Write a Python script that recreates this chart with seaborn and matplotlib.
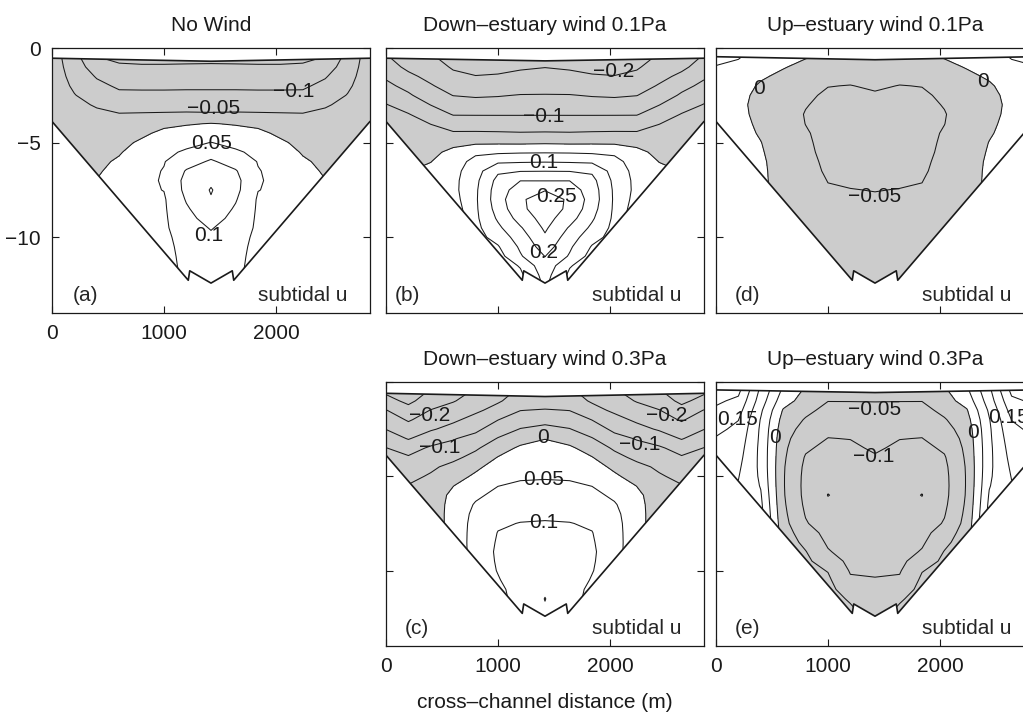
import numpy as np
import matplotlib
matplotlib.use("Agg")
import matplotlib.pyplot as plt
import seaborn as sns
from matplotlib.patches import Polygon

sns.set_theme(style="ticks")
plt.rcParams['font.family'] = ['Liberation Sans', 'DejaVu Sans']
plt.rcParams['axes.unicode_minus'] = True
plt.rcParams['contour.negative_linestyle'] = 'solid'

# ---------------- grid of the cross-section (m) ----------------
x_nodes = [0, 200, 400, 600, 800, 1000, 1200, 1420, 1640, 1840, 2040, 2240, 2440, 2640, 2840]
z_nodes = [-0.4, -1.0, -1.5, -2.0, -2.5, -3.0, -3.5, -4.0, -4.5, -5.0, -5.5, -6.0, -6.5,
           -7.0, -7.5, -8.0, -8.5, -9.0, -9.5, -10.0, -10.5, -11.0, -11.5, -12.0, -12.5]

# channel bed (m)
bed_x = [0, 1217, 1230, 1420, 1610, 1623, 2840]
bed_z = [-3.88, -12.27, -11.77, -12.42, -11.77, -12.27, -3.88]

# contour levels drawn as lines
line_levels = [-0.3, -0.25, -0.2, -0.15, -0.1, -0.05, 0.0, 0.05, 0.1, 0.15, 0.2, 0.25, 0.3]

# ---------------- subtidal u fields (m/s), rows = z_nodes, cols = x_nodes ----------------
u_no_wind = [
    [-0.025, -0.085, -0.152, -0.158, -0.160, -0.160, -0.161, -0.162, -0.161, -0.160, -0.160, -0.158, -0.152, -0.085, -0.025],
    [-0.024, -0.075, -0.125, -0.146, -0.147, -0.147, -0.146, -0.145, -0.146, -0.147, -0.147, -0.146, -0.125, -0.075, -0.024],
    [-0.022, -0.067, -0.104, -0.125, -0.127, -0.127, -0.126, -0.125, -0.126, -0.127, -0.127, -0.125, -0.104, -0.067, -0.022],
    [-0.020, -0.058, -0.088, -0.107, -0.108, -0.108, -0.107, -0.107, -0.107, -0.108, -0.108, -0.107, -0.088, -0.058, -0.020],
    [-0.018, -0.048, -0.073, -0.090, -0.090, -0.090, -0.090, -0.090, -0.090, -0.090, -0.090, -0.090, -0.073, -0.048, -0.018],
    [-0.016, -0.040, -0.054, -0.066, -0.066, -0.066, -0.066, -0.066, -0.066, -0.066, -0.066, -0.066, -0.054, -0.040, -0.016],
    [-0.014, -0.033, -0.042, -0.048, -0.047, -0.046, -0.045, -0.046, -0.045, -0.046, -0.047, -0.048, -0.042, -0.033, -0.014],
    [-0.012, -0.028, -0.033, -0.035, -0.030, -0.012, -0.004, 0.002, -0.004, -0.012, -0.030, -0.035, -0.033, -0.028, -0.012],
    [-0.010, -0.024, -0.026, -0.024, -0.010, 0.012, 0.020, 0.026, 0.020, 0.012, -0.010, -0.024, -0.026, -0.024, -0.010],
    [-0.008, -0.020, -0.020, -0.014, 0.008, 0.028, 0.038, 0.051, 0.038, 0.028, 0.008, -0.014, -0.020, -0.020, -0.008],
    [-0.007, -0.017, -0.015, -0.004, 0.022, 0.040, 0.056, 0.080, 0.056, 0.040, 0.022, -0.004, -0.015, -0.017, -0.007],
    [-0.006, -0.014, -0.010, 0.006, 0.032, 0.048, 0.080, 0.106, 0.080, 0.048, 0.032, 0.006, -0.010, -0.014, -0.006],
    [-0.005, -0.011, -0.005, 0.014, 0.038, 0.052, 0.104, 0.128, 0.104, 0.052, 0.038, 0.014, -0.005, -0.011, -0.005],
    [-0.004, -0.008, 0.001, 0.020, 0.041, 0.053, 0.115, 0.142, 0.115, 0.053, 0.041, 0.020, 0.001, -0.008, -0.004],
    [-0.003, -0.005, 0.005, 0.025, 0.042, 0.051, 0.113, 0.153, 0.113, 0.051, 0.042, 0.025, 0.005, -0.005, -0.003],
    [-0.002, -0.002, 0.010, 0.028, 0.042, 0.045, 0.104, 0.147, 0.104, 0.045, 0.042, 0.028, 0.010, -0.002, -0.002],
    [-0.001, 0.001, 0.012, 0.030, 0.041, 0.044, 0.094, 0.135, 0.094, 0.044, 0.041, 0.030, 0.012, 0.001, -0.001],
    [0.000, 0.002, 0.014, 0.030, 0.040, 0.043, 0.085, 0.120, 0.085, 0.043, 0.040, 0.030, 0.014, 0.002, 0.000],
    [0.000, 0.004, 0.016, 0.030, 0.038, 0.042, 0.078, 0.103, 0.078, 0.042, 0.038, 0.030, 0.016, 0.004, 0.000],
    [0.000, 0.005, 0.017, 0.030, 0.036, 0.040, 0.068, 0.092, 0.068, 0.040, 0.036, 0.030, 0.017, 0.005, 0.000],
    [0.000, 0.006, 0.018, 0.030, 0.034, 0.038, 0.064, 0.084, 0.064, 0.038, 0.034, 0.030, 0.018, 0.006, 0.000],
    [0.000, 0.007, 0.019, 0.030, 0.033, 0.036, 0.062, 0.078, 0.062, 0.036, 0.033, 0.030, 0.019, 0.007, 0.000],
    [0.000, 0.008, 0.020, 0.030, 0.032, 0.035, 0.060, 0.074, 0.060, 0.035, 0.032, 0.030, 0.020, 0.008, 0.000],
    [0.000, 0.008, 0.020, 0.030, 0.031, 0.034, 0.058, 0.070, 0.058, 0.034, 0.031, 0.030, 0.020, 0.008, 0.000],
    [0.000, 0.008, 0.020, 0.030, 0.030, 0.033, 0.056, 0.068, 0.056, 0.033, 0.030, 0.030, 0.020, 0.008, 0.000],
]

u_down_01 = [
    [-0.147, -0.182, -0.197, -0.216, -0.219, -0.221, -0.223, -0.216, -0.223, -0.221, -0.219, -0.216, -0.197, -0.182, -0.147],
    [-0.130, -0.160, -0.180, -0.205, -0.210, -0.212, -0.205, -0.201, -0.205, -0.212, -0.210, -0.205, -0.180, -0.160, -0.130],
    [-0.107, -0.140, -0.163, -0.190, -0.199, -0.196, -0.190, -0.187, -0.190, -0.196, -0.199, -0.190, -0.163, -0.140, -0.107],
    [-0.088, -0.115, -0.146, -0.170, -0.178, -0.175, -0.172, -0.166, -0.172, -0.175, -0.178, -0.170, -0.146, -0.115, -0.088],
    [-0.066, -0.093, -0.128, -0.151, -0.156, -0.153, -0.148, -0.148, -0.148, -0.153, -0.156, -0.151, -0.128, -0.093, -0.066],
    [-0.048, -0.070, -0.101, -0.127, -0.130, -0.130, -0.128, -0.125, -0.128, -0.130, -0.130, -0.127, -0.101, -0.070, -0.048],
    [-0.035, -0.048, -0.075, -0.103, -0.103, -0.103, -0.103, -0.103, -0.103, -0.103, -0.103, -0.103, -0.075, -0.048, -0.035],
    [-0.025, -0.033, -0.051, -0.073, -0.076, -0.077, -0.077, -0.076, -0.077, -0.077, -0.076, -0.073, -0.051, -0.033, -0.025],
    [-0.018, -0.022, -0.035, -0.045, -0.044, -0.045, -0.047, -0.046, -0.047, -0.045, -0.044, -0.045, -0.035, -0.022, -0.018],
    [-0.012, -0.014, -0.022, -0.013, -0.008, -0.007, -0.008, -0.006, -0.008, -0.007, -0.008, -0.013, -0.022, -0.014, -0.012],
    [-0.008, -0.008, -0.012, 0.012, 0.040, 0.042, 0.045, 0.046, 0.045, 0.042, 0.040, 0.012, -0.012, -0.008, -0.008],
    [-0.005, -0.003, -0.001, 0.026, 0.066, 0.092, 0.095, 0.097, 0.095, 0.092, 0.066, 0.026, -0.001, -0.003, -0.005],
    [-0.003, -0.001, 0.010, 0.033, 0.080, 0.142, 0.148, 0.149, 0.148, 0.142, 0.080, 0.033, 0.010, -0.001, -0.003],
    [-0.001, 0.002, 0.018, 0.036, 0.088, 0.165, 0.199, 0.198, 0.199, 0.165, 0.088, 0.036, 0.018, 0.002, -0.001],
    [0.001, 0.005, 0.022, 0.036, 0.092, 0.175, 0.225, 0.248, 0.225, 0.175, 0.092, 0.036, 0.022, 0.005, 0.001],
    [0.002, 0.008, 0.024, 0.030, 0.093, 0.178, 0.244, 0.270, 0.244, 0.178, 0.093, 0.030, 0.024, 0.008, 0.002],
    [0.003, 0.010, 0.024, 0.020, 0.092, 0.170, 0.240, 0.276, 0.240, 0.170, 0.092, 0.020, 0.024, 0.010, 0.003],
    [0.003, 0.012, 0.024, 0.010, 0.090, 0.157, 0.220, 0.270, 0.220, 0.157, 0.090, 0.010, 0.024, 0.012, 0.003],
    [0.003, 0.012, 0.024, 0.005, 0.086, 0.140, 0.195, 0.258, 0.195, 0.140, 0.086, 0.005, 0.024, 0.012, 0.003],
    [0.003, 0.012, 0.024, 0.002, 0.082, 0.118, 0.175, 0.243, 0.175, 0.118, 0.082, 0.002, 0.024, 0.012, 0.003],
    [0.003, 0.012, 0.024, 0.001, 0.078, 0.096, 0.158, 0.225, 0.158, 0.096, 0.078, 0.001, 0.024, 0.012, 0.003],
    [0.003, 0.012, 0.024, 0.001, 0.074, 0.080, 0.145, 0.201, 0.145, 0.080, 0.074, 0.001, 0.024, 0.012, 0.003],
    [0.003, 0.012, 0.024, 0.001, 0.070, 0.072, 0.104, 0.185, 0.104, 0.072, 0.070, 0.001, 0.024, 0.012, 0.003],
    [0.003, 0.012, 0.024, 0.001, 0.066, 0.066, 0.090, 0.170, 0.090, 0.066, 0.066, 0.001, 0.024, 0.012, 0.003],
    [0.003, 0.012, 0.024, 0.001, 0.062, 0.062, 0.080, 0.160, 0.080, 0.062, 0.062, 0.001, 0.024, 0.012, 0.003],
]

u_up_01 = [
    [0.064, 0.055, 0.032, 0.020, 0.005, -0.008, -0.010, -0.012, -0.010, -0.008, 0.005, 0.020, 0.032, 0.055, 0.064],
    [0.048, 0.040, 0.018, 0.003, -0.012, -0.022, -0.025, -0.024, -0.025, -0.022, -0.012, 0.003, 0.018, 0.040, 0.048],
    [0.042, 0.030, 0.006, -0.010, -0.025, -0.035, -0.040, -0.035, -0.040, -0.035, -0.025, -0.010, 0.006, 0.030, 0.042],
    [0.037, 0.020, -0.006, -0.020, -0.035, -0.049, -0.051, -0.045, -0.051, -0.049, -0.035, -0.020, -0.006, 0.020, 0.037],
    [0.033, 0.013, -0.012, -0.027, -0.043, -0.056, -0.058, -0.054, -0.058, -0.056, -0.043, -0.027, -0.012, 0.013, 0.033],
    [0.030, 0.010, -0.014, -0.030, -0.048, -0.060, -0.063, -0.060, -0.063, -0.060, -0.048, -0.030, -0.014, 0.010, 0.030],
    [0.027, 0.011, -0.012, -0.031, -0.052, -0.062, -0.066, -0.064, -0.066, -0.062, -0.052, -0.031, -0.012, 0.011, 0.027],
    [0.025, 0.013, -0.008, -0.030, -0.0505, -0.062, -0.067, -0.066, -0.067, -0.062, -0.0505, -0.030, -0.008, 0.013, 0.025],
    [0.023, 0.015, -0.004, -0.028, -0.047, -0.061, -0.067, -0.067, -0.067, -0.061, -0.047, -0.028, -0.004, 0.015, 0.023],
    [0.021, 0.016, 0.001, -0.025, -0.045, -0.060, -0.066, -0.066, -0.066, -0.060, -0.045, -0.025, 0.001, 0.016, 0.021],
    [0.019, 0.016, 0.004, -0.022, -0.043, -0.059, -0.064, -0.065, -0.064, -0.059, -0.043, -0.022, 0.004, 0.016, 0.019],
    [0.017, 0.015, 0.007, -0.020, -0.040, -0.057, -0.062, -0.063, -0.062, -0.057, -0.040, -0.020, 0.007, 0.015, 0.017],
    [0.015, 0.014, 0.008, -0.018, -0.037, -0.055, -0.059, -0.060, -0.059, -0.055, -0.037, -0.018, 0.008, 0.014, 0.015],
    [0.013, 0.013, 0.008, -0.016, -0.033, -0.051, -0.055, -0.056, -0.055, -0.051, -0.033, -0.016, 0.008, 0.013, 0.013],
    [0.012, 0.012, 0.008, -0.013, -0.030, -0.047, -0.049, -0.051, -0.049, -0.047, -0.030, -0.013, 0.008, 0.012, 0.012],
    [0.011, 0.012, 0.008, -0.010, -0.027, -0.043, -0.045, -0.046, -0.045, -0.043, -0.027, -0.010, 0.008, 0.012, 0.011],
    [0.010, 0.012, 0.008, -0.008, -0.024, -0.040, -0.041, -0.042, -0.041, -0.040, -0.024, -0.008, 0.008, 0.012, 0.010],
    [0.010, 0.012, 0.008, -0.006, -0.020, -0.036, -0.037, -0.038, -0.037, -0.036, -0.020, -0.006, 0.008, 0.012, 0.010],
    [0.010, 0.012, 0.008, -0.005, -0.018, -0.033, -0.034, -0.035, -0.034, -0.033, -0.018, -0.005, 0.008, 0.012, 0.010],
    [0.010, 0.012, 0.008, -0.005, -0.015, -0.030, -0.031, -0.032, -0.031, -0.030, -0.015, -0.005, 0.008, 0.012, 0.010],
    [0.010, 0.012, 0.008, -0.005, -0.013, -0.027, -0.028, -0.029, -0.028, -0.027, -0.013, -0.005, 0.008, 0.012, 0.010],
    [0.010, 0.012, 0.008, -0.005, -0.012, -0.025, -0.026, -0.027, -0.026, -0.025, -0.012, -0.005, 0.008, 0.012, 0.010],
    [0.010, 0.012, 0.008, -0.005, -0.012, -0.023, -0.024, -0.025, -0.024, -0.023, -0.012, -0.005, 0.008, 0.012, 0.010],
    [0.010, 0.012, 0.008, -0.005, -0.012, -0.021, -0.022, -0.023, -0.022, -0.021, -0.012, -0.005, 0.008, 0.012, 0.010],
    [0.010, 0.012, 0.008, -0.005, -0.012, -0.020, -0.020, -0.021, -0.020, -0.020, -0.012, -0.005, 0.008, 0.012, 0.010],
]

u_down_03 = [
    [-0.262, -0.292, -0.248, -0.215, -0.198, -0.170, -0.145, -0.140, -0.145, -0.170, -0.198, -0.215, -0.248, -0.292, -0.262],
    [-0.235, -0.260, -0.228, -0.203, -0.180, -0.155, -0.130, -0.128, -0.130, -0.155, -0.180, -0.203, -0.228, -0.260, -0.235],
    [-0.198, -0.235, -0.198, -0.182, -0.158, -0.135, -0.101, -0.096, -0.101, -0.135, -0.158, -0.182, -0.198, -0.235, -0.198],
    [-0.174, -0.205, -0.178, -0.158, -0.135, -0.101, -0.075, -0.066, -0.075, -0.101, -0.135, -0.158, -0.178, -0.205, -0.174],
    [-0.151, -0.180, -0.155, -0.135, -0.110, -0.076, -0.048, -0.036, -0.048, -0.076, -0.110, -0.135, -0.155, -0.180, -0.151],
    [-0.124, -0.153, -0.125, -0.103, -0.085, -0.047, -0.020, -0.001, -0.020, -0.047, -0.085, -0.103, -0.125, -0.153, -0.124],
    [-0.099, -0.120, -0.093, -0.085, -0.057, -0.022, 0.008, 0.012, 0.008, -0.022, -0.057, -0.085, -0.093, -0.120, -0.099],
    [-0.080, -0.095, -0.075, -0.061, -0.035, 0.002, 0.020, 0.022, 0.020, 0.002, -0.035, -0.061, -0.075, -0.095, -0.080],
    [-0.065, -0.078, -0.058, -0.037, -0.010, 0.020, 0.032, 0.034, 0.032, 0.020, -0.010, -0.037, -0.058, -0.078, -0.065],
    [-0.052, -0.062, -0.045, -0.020, 0.008, 0.035, 0.043, 0.046, 0.043, 0.035, 0.008, -0.020, -0.045, -0.062, -0.052],
    [-0.045, -0.048, -0.034, -0.001, 0.023, 0.049, 0.058, 0.058, 0.058, 0.049, 0.023, -0.001, -0.034, -0.048, -0.045],
    [-0.040, -0.040, -0.024, 0.010, 0.040, 0.064, 0.070, 0.070, 0.070, 0.064, 0.040, 0.010, -0.024, -0.040, -0.040],
    [-0.036, -0.035, -0.020, 0.012, 0.055, 0.078, 0.082, 0.082, 0.082, 0.078, 0.055, 0.012, -0.020, -0.035, -0.036],
    [-0.032, -0.030, -0.018, 0.012, 0.065, 0.089, 0.093, 0.093, 0.093, 0.089, 0.065, 0.012, -0.018, -0.030, -0.032],
    [-0.028, -0.026, -0.015, 0.010, 0.072, 0.096, 0.101, 0.103, 0.101, 0.096, 0.072, 0.010, -0.015, -0.026, -0.028],
    [-0.025, -0.022, -0.012, 0.006, 0.077, 0.101, 0.108, 0.110, 0.108, 0.101, 0.077, 0.006, -0.012, -0.022, -0.025],
    [-0.022, -0.020, -0.010, 0.003, 0.080, 0.103, 0.113, 0.117, 0.113, 0.103, 0.080, 0.003, -0.010, -0.020, -0.022],
    [-0.022, -0.020, -0.008, 0.001, 0.080, 0.105, 0.117, 0.123, 0.117, 0.105, 0.080, 0.001, -0.008, -0.020, -0.022],
    [-0.022, -0.020, -0.008, 0.001, 0.078, 0.104, 0.120, 0.128, 0.120, 0.104, 0.078, 0.001, -0.008, -0.020, -0.022],
    [-0.022, -0.020, -0.008, 0.001, 0.075, 0.102, 0.122, 0.134, 0.122, 0.102, 0.075, 0.001, -0.008, -0.020, -0.022],
    [-0.022, -0.020, -0.008, 0.001, 0.072, 0.097, 0.123, 0.139, 0.123, 0.097, 0.072, 0.001, -0.008, -0.020, -0.022],
    [-0.022, -0.020, -0.008, 0.001, 0.070, 0.088, 0.122, 0.145, 0.122, 0.088, 0.070, 0.001, -0.008, -0.020, -0.022],
    [-0.022, -0.020, -0.008, 0.001, 0.068, 0.084, 0.120, 0.151, 0.120, 0.084, 0.068, 0.001, -0.008, -0.020, -0.022],
    [-0.022, -0.020, -0.008, 0.001, 0.068, 0.082, 0.115, 0.147, 0.115, 0.082, 0.068, 0.001, -0.008, -0.020, -0.022],
    [-0.022, -0.020, -0.008, 0.001, 0.068, 0.080, 0.110, 0.140, 0.110, 0.080, 0.068, 0.001, -0.008, -0.020, -0.022],
]

u_up_03 = [
    [0.278, 0.264, 0.140, 0.042, -0.006, -0.030, -0.030, -0.030, -0.030, -0.030, -0.006, 0.042, 0.140, 0.264, 0.278],
    [0.258, 0.240, 0.125, 0.020, -0.020, -0.049, -0.049, -0.049, -0.049, -0.049, -0.020, 0.020, 0.125, 0.240, 0.258],
    [0.242, 0.220, 0.108, -0.004, -0.038, -0.064, -0.062, -0.058, -0.062, -0.064, -0.038, -0.004, 0.108, 0.220, 0.242],
    [0.225, 0.201, 0.097, -0.018, -0.054, -0.078, -0.075, -0.068, -0.075, -0.078, -0.054, -0.018, 0.097, 0.201, 0.225],
    [0.210, 0.190, 0.092, -0.028, -0.067, -0.090, -0.088, -0.077, -0.088, -0.090, -0.067, -0.028, 0.092, 0.190, 0.210],
    [0.197, 0.180, 0.090, -0.035, -0.080, -0.101, -0.099, -0.085, -0.099, -0.101, -0.080, -0.035, 0.090, 0.180, 0.197],
    [0.186, 0.172, 0.088, -0.039, -0.093, -0.112, -0.108, -0.094, -0.108, -0.112, -0.093, -0.039, 0.088, 0.172, 0.186],
    [0.176, 0.165, 0.088, -0.042, -0.104, -0.122, -0.116, -0.104, -0.116, -0.122, -0.104, -0.042, 0.088, 0.165, 0.176],
    [0.167, 0.158, 0.089, -0.045, -0.110, -0.130, -0.123, -0.112, -0.123, -0.130, -0.110, -0.045, 0.089, 0.158, 0.167],
    [0.160, 0.152, 0.092, -0.046, -0.113, -0.138, -0.128, -0.118, -0.128, -0.138, -0.113, -0.046, 0.092, 0.152, 0.160],
    [0.152, 0.147, 0.097, -0.046, -0.114, -0.144, -0.133, -0.123, -0.133, -0.144, -0.114, -0.046, 0.097, 0.147, 0.152],
    [0.146, 0.142, 0.104, -0.045, -0.113, -0.151, -0.137, -0.127, -0.137, -0.151, -0.113, -0.045, 0.104, 0.142, 0.146],
    [0.141, 0.138, 0.110, -0.042, -0.109, -0.143, -0.138, -0.130, -0.138, -0.143, -0.109, -0.042, 0.110, 0.138, 0.141],
    [0.137, 0.135, 0.115, -0.038, -0.103, -0.135, -0.137, -0.131, -0.137, -0.135, -0.103, -0.038, 0.115, 0.135, 0.137],
    [0.134, 0.133, 0.120, -0.033, -0.096, -0.126, -0.135, -0.131, -0.135, -0.126, -0.096, -0.033, 0.120, 0.133, 0.134],
    [0.132, 0.133, 0.125, -0.028, -0.075, -0.117, -0.131, -0.130, -0.131, -0.117, -0.075, -0.028, 0.125, 0.133, 0.132],
    [0.132, 0.133, 0.125, -0.022, -0.062, -0.107, -0.126, -0.127, -0.126, -0.107, -0.062, -0.022, 0.125, 0.133, 0.132],
    [0.132, 0.133, 0.125, -0.016, -0.048, -0.096, -0.120, -0.122, -0.120, -0.096, -0.048, -0.016, 0.125, 0.133, 0.132],
    [0.132, 0.133, 0.125, -0.012, -0.040, -0.075, -0.112, -0.115, -0.112, -0.075, -0.040, -0.012, 0.125, 0.133, 0.132],
    [0.132, 0.133, 0.125, -0.010, -0.035, -0.052, -0.104, -0.107, -0.104, -0.052, -0.035, -0.010, 0.125, 0.133, 0.132],
    [0.132, 0.133, 0.125, -0.010, -0.030, -0.042, -0.094, -0.097, -0.094, -0.042, -0.030, -0.010, 0.125, 0.133, 0.132],
    [0.132, 0.133, 0.125, -0.010, -0.028, -0.036, -0.075, -0.088, -0.075, -0.036, -0.028, -0.010, 0.125, 0.133, 0.132],
    [0.132, 0.133, 0.125, -0.010, -0.028, -0.033, -0.055, -0.080, -0.055, -0.033, -0.028, -0.010, 0.125, 0.133, 0.132],
    [0.132, 0.133, 0.125, -0.010, -0.028, -0.033, -0.045, -0.074, -0.045, -0.033, -0.028, -0.010, 0.125, 0.133, 0.132],
    [0.132, 0.133, 0.125, -0.010, -0.028, -0.033, -0.040, -0.070, -0.040, -0.033, -0.028, -0.010, 0.125, 0.133, 0.132],
]

# water surface elevation (edge, channel centre) per panel (m)
surface_a = [-0.54, -0.70]
surface_b = [-0.54, -0.68]
surface_d = [-0.46, -0.62]
surface_c = [-0.60, -0.77]
surface_e = [-0.42, -0.56]

# contour labels: x (m), z (m), text
labels_a_x = [2155, 1440, 1426, 1396]
labels_a_z = [-2.3, -3.18, -5.02, -9.93]
labels_a_t = ['\u22120.1', '\u22120.05', '0.05', '0.1']
labels_b_x = [2030, 1405, 1405, 1524, 1405]
labels_b_z = [-1.25, -3.61, -6.07, -7.82, -10.8]
labels_b_t = ['\u22120.2', '\u22120.1', '0.1', '0.25', '0.2']
labels_d_x = [387, 2387, 1420]
labels_d_z = [-2.12, -1.77, -7.82]
labels_d_t = ['0', '0', '\u22120.05']
labels_c_x = [393, 2506, 482, 2268, 1405, 1405, 1405]
labels_c_z = [-1.79, -1.79, -3.49, -3.32, -2.96, -5.16, -7.44]
labels_c_t = ['\u22120.2', '\u22120.2', '\u22120.1', '\u22120.1', '0', '0.05', '0.1']
labels_e_x = [195, 527, 1420, 1405, 2297, 2610]
labels_e_z = [-2.0, -2.96, -1.47, -3.93, -2.7, -1.9]
labels_e_t = ['0.15', '0', '\u22120.05', '\u22120.1', '0', '0.15']

titles = ['No Wind', 'Down\u2013estuary wind 0.1Pa', 'Up\u2013estuary wind 0.1Pa',
          'Down\u2013estuary wind 0.3Pa', 'Up\u2013estuary wind 0.3Pa']
tags = ['(a)', '(b)', '(d)', '(c)', '(e)']

# ---------------- figure ----------------
W, H = 1023, 717
fig = plt.figure(figsize=(W / 100, H / 100), dpi=100)


def rect(left, top, w, h):
    return [left / W, 1 - (top + h) / H, w / W, h / H]


panels = [
    dict(rect=rect(52, 48, 318, 265), u=u_no_wind, s=surface_a, lx=labels_a_x, lz=labels_a_z, lt=labels_a_t,
         title=titles[0], tag=tags[0], tagx=0.065, xlab=True, ylab=True),
    dict(rect=rect(386, 48, 318, 265), u=u_down_01, s=surface_b, lx=labels_b_x, lz=labels_b_z, lt=labels_b_t,
         title=titles[1], tag=tags[1], tagx=0.028, xlab=False, ylab=False),
    dict(rect=rect(716, 48, 318, 265), u=u_up_01, s=surface_d, lx=labels_d_x, lz=labels_d_z, lt=labels_d_t,
         title=titles[2], tag=tags[2], tagx=0.06, xlab=False, ylab=False),
    dict(rect=rect(386, 382, 318, 264), u=u_down_03, s=surface_c, lx=labels_c_x, lz=labels_c_z, lt=labels_c_t,
         title=titles[3], tag=tags[3], tagx=0.06, xlab=True, ylab=False),
    dict(rect=rect(716, 382, 318, 264), u=u_up_03, s=surface_e, lx=labels_e_x, lz=labels_e_z, lt=labels_e_t,
         title=titles[4], tag=tags[4], tagx=0.06, xlab=True, ylab=False),
]

X, Z = np.meshgrid(x_nodes, z_nodes)
FS = 15

axes = []
for p in panels:
    ax = fig.add_axes(p['rect'])
    axes.append(ax)
    U = np.array(p['u'], dtype=float)
    s_edge, s_mid = p['s']
    top_x = [x_nodes[0], bed_x[3], x_nodes[-1]]
    top_z = [s_edge, s_mid, s_edge]
    verts = np.column_stack([top_x + bed_x[::-1], top_z + bed_z[::-1]])
    patch = Polygon(verts, closed=True, facecolor='none', edgecolor='none', transform=ax.transData)
    ax.add_patch(patch)

    cf = ax.contourf(X, Z, U, levels=[-1.0, 0.0], colors=['#cccccc'])
    cf.set_clip_path(patch)
    cl = ax.contour(X, Z, U, levels=line_levels, colors='k', linewidths=0.75,
                    linestyles='solid', negative_linestyles='solid')
    cl.set_clip_path(patch)

    sns.lineplot(x=top_x, y=top_z, ax=ax, color='k', linewidth=1.2, sort=False, estimator=None)
    sns.lineplot(x=bed_x, y=bed_z, ax=ax, color='k', linewidth=1.2, sort=False, estimator=None)

    for lx, lz, lt in zip(p['lx'], p['lz'], p['lt']):
        ax.text(lx, lz, lt, ha='center', va='center', fontsize=FS, color='k')

    ax.text(p['tagx'], 0.066, p['tag'], transform=ax.transAxes, ha='left', va='center', fontsize=FS)
    ax.text(0.93, 0.066, 'subtidal u', transform=ax.transAxes, ha='right', va='center', fontsize=FS)

    ax.set_xlim(0, 2840)
    ax.set_ylim(-14, 0)
    ax.set_xticks([0, 1000, 2000])
    ax.set_yticks([0, -5, -10])
    ax.tick_params(direction='in', top=True, right=True, length=5, width=0.8,
                   labelsize=FS, pad=8, colors='k',
                   labelbottom=p['xlab'], labelleft=p['ylab'])
    for sp in ax.spines.values():
        sp.set_color('k')
        sp.set_linewidth(0.9)
    ax.set_title(p['title'], fontsize=FS, pad=12, color='k')
    ax.set_facecolor('white')

axes[3].set_xlabel('cross\u2013channel distance (m)', fontsize=FS, labelpad=12, color='k')

fig.savefig('out.png', dpi=100, facecolor='white')
